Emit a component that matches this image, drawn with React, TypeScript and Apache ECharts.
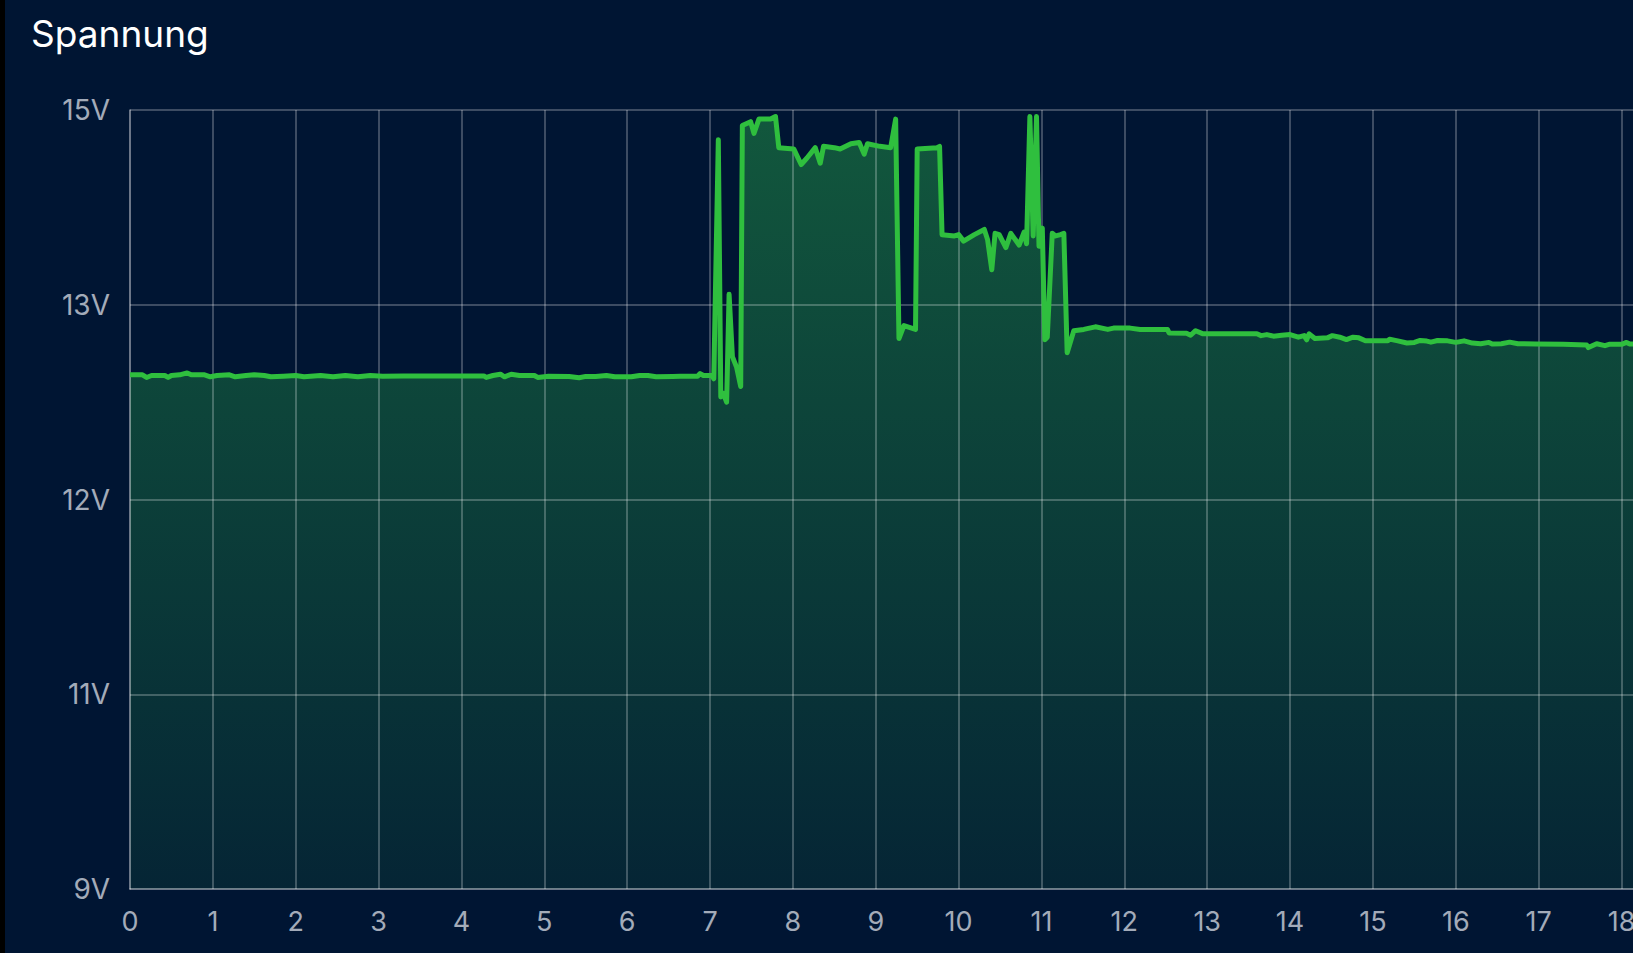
import React, { useEffect, useRef } from "react";
import * as echarts from "echarts";

const chartTitle = "Spannung";

// [hour, volt] readings
const readings: [number, number][] = [
  [0, 12.96], [0.15, 12.96], [0.2, 12.94], [0.26, 12.955], [0.42, 12.955], [0.46, 12.94], [0.5, 12.955],
  [0.6, 12.96], [0.69, 12.975], [0.74, 12.96], [0.9, 12.96], [0.97, 12.945], [1.05, 12.955], [1.2, 12.96],
  [1.27, 12.945], [1.4, 12.955], [1.5, 12.96], [1.62, 12.955], [1.7, 12.945], [1.85, 12.95], [2.0, 12.955],
  [2.1, 12.945], [2.3, 12.955], [2.45, 12.945], [2.6, 12.955], [2.75, 12.945], [2.9, 12.955], [3.05, 12.95],
  [3.3, 12.952], [3.55, 12.952], [3.8, 12.952], [4.1, 12.952], [4.27, 12.952], [4.3, 12.94], [4.38, 12.955],
  [4.47, 12.965], [4.52, 12.945], [4.6, 12.965], [4.7, 12.955], [4.88, 12.955], [4.92, 12.94], [5.05, 12.95],
  [5.3, 12.948], [5.42, 12.938], [5.5, 12.948], [5.62, 12.948], [5.75, 12.955], [5.85, 12.945], [6.05, 12.945],
  [6.15, 12.955], [6.25, 12.955], [6.35, 12.945], [6.55, 12.948], [6.64, 12.95], [6.85, 12.95], [6.88, 12.97],
  [6.92, 12.955], [7.02, 12.955], [7.045, 12.93],
  [7.1, 14.77], [7.13, 12.79], [7.16, 12.82], [7.2, 12.75], [7.23, 13.58], [7.27, 13.1], [7.32, 13.02],
  [7.37, 12.87], [7.39, 14.88], [7.49, 14.91], [7.53, 14.82], [7.59, 14.93], [7.73, 14.93], [7.79, 14.95],
  [7.83, 14.71], [8.01, 14.7], [8.1, 14.58], [8.17, 14.63], [8.27, 14.71], [8.33, 14.59], [8.37, 14.72],
  [8.5, 14.71], [8.57, 14.7], [8.7, 14.74], [8.8, 14.75], [8.86, 14.66], [8.9, 14.74], [9.05, 14.72],
  [9.18, 14.71], [9.24, 14.93], [9.28, 13.24], [9.34, 13.34], [9.48, 13.31], [9.5, 14.7], [9.74, 14.71],
  [9.77, 14.72], [9.8, 14.04], [9.95, 14.03], [10.0, 14.04], [10.06, 13.99], [10.19, 14.04], [10.31, 14.08],
  [10.35, 14.0], [10.4, 13.77], [10.44, 14.05], [10.49, 14.04], [10.57, 13.94], [10.63, 14.05], [10.73, 13.96],
  [10.79, 14.06], [10.82, 13.97], [10.86, 14.95], [10.9, 14.03], [10.94, 14.95], [10.97, 13.95], [11.01, 14.09],
  [11.04, 13.23], [11.07, 13.25], [11.13, 14.05], [11.17, 14.03], [11.23, 14.04], [11.27, 14.05], [11.31, 13.13],
  [11.39, 13.3], [11.51, 13.31], [11.65, 13.33], [11.8, 13.31], [11.87, 13.32], [12.07, 13.32], [12.19, 13.31],
  [12.52, 13.31], [12.54, 13.283], [12.75, 13.28], [12.8, 13.265], [12.86, 13.3], [12.95, 13.276], [13.6, 13.276],
  [13.65, 13.262], [13.72, 13.27], [13.8, 13.258], [13.9, 13.265], [14.0, 13.27], [14.1, 13.25], [14.17, 13.262],
  [14.2, 13.23], [14.23, 13.276], [14.3, 13.24], [14.45, 13.245], [14.51, 13.262], [14.6, 13.25], [14.68, 13.232],
  [14.76, 13.25], [14.83, 13.245], [14.91, 13.222], [15.18, 13.222], [15.2, 13.235], [15.3, 13.222], [15.41, 13.205],
  [15.5, 13.21], [15.57, 13.225], [15.65, 13.22], [15.7, 13.212], [15.78, 13.225], [15.9, 13.222], [16.0, 13.21],
  [16.1, 13.222], [16.2, 13.205], [16.3, 13.2], [16.4, 13.21], [16.44, 13.197], [16.55, 13.2], [16.65, 13.212],
  [16.75, 13.2], [16.97, 13.197], [17.3, 13.195], [17.58, 13.19], [17.6, 13.17], [17.7, 13.2], [17.8, 13.185],
  [17.85, 13.195], [18.0, 13.195], [18.06, 13.21], [18.1, 13.197], [18.2, 13.197],
];

const yTickValues = [9, 10.5, 12, 13.5, 15];
const yTickLabels = ["9V", "11V", "12V", "13V", "15V"];
// the plot continues past the right edge of the picture
const xMax = 18.38;

export default function App() {
  const ref = useRef<HTMLDivElement>(null);
  useEffect(() => {
    document.body.style.margin = "0";
    const chart = echarts.init(ref.current!, null, { renderer: "svg" });
    const gridColor = "rgba(255,255,255,0.24)";
    const labelColor = "#a3abb9";
    chart.setOption({
      animation: false,
      backgroundColor: "#001533",
      textStyle: { fontFamily: "Inter" },
      graphic: [
        {
          type: "text",
          left: 26,
          top: 15,
          style: { text: chartTitle, fill: "#ffffff", font: "37px Inter" },
        },
      ],
      grid: { left: 125, right: -20, top: 110, bottom: 64, outerBoundsMode: "none", containLabel: false },
      xAxis: {
        type: "value",
        min: 0,
        max: xMax,
        interval: 1,
        axisLine: { show: true, lineStyle: { color: gridColor, width: 2 } },
        axisTick: { show: false },
        splitLine: { show: true, lineStyle: { color: gridColor, width: 2 } },
        axisLabel: {
          color: labelColor,
          fontSize: 27,
          fontFamily: "Inter",
          margin: 19,
          formatter: (v: number) => (Number.isInteger(v) ? String(v) : ""),
        },
      },
      yAxis: {
        type: "value",
        min: 9,
        max: 15,
        interval: 1.5,
        axisLine: { show: true, lineStyle: { color: gridColor, width: 2 } },
        axisTick: { show: false },
        splitLine: { show: true, lineStyle: { color: gridColor, width: 2 } },
        axisLabel: {
          color: labelColor,
          fontSize: 28,
          fontFamily: "Inter",
          margin: 20,
          formatter: (v: number) => {
            const i = yTickValues.findIndex((t) => Math.abs(t - v) < 1e-6);
            return i >= 0 ? yTickLabels[i] : "";
          },
        },
      },
      series: [
        {
          type: "line",
          data: readings,
          showSymbol: false,
          symbol: "none",
          lineStyle: { width: 0, opacity: 0 },
          areaStyle: {
            opacity: 1,
            color: new echarts.graphic.LinearGradient(
              0, 110, 0, 889,
              [
                { offset: 0, color: "#12583d" },
                { offset: 1, color: "#052535" },
              ],
              true
            ),
          },
          z: -1,
          silent: true,
        },
        {
          type: "line",
          data: readings,
          showSymbol: false,
          symbol: "none",
          lineStyle: { color: "#2fbf3e", width: 5, join: "round" },
          itemStyle: { color: "#2fbf3e" },
          z: 3,
        },
      ],
    });
    return () => chart.dispose();
  }, []);
  return (
    <div style={{ width: 1633, height: 953, background: "#000", position: "relative", overflow: "hidden" }}>
      <div ref={ref} style={{ position: "absolute", left: 5, top: 0, width: 1628, height: 953 }} />
    </div>
  );
}
